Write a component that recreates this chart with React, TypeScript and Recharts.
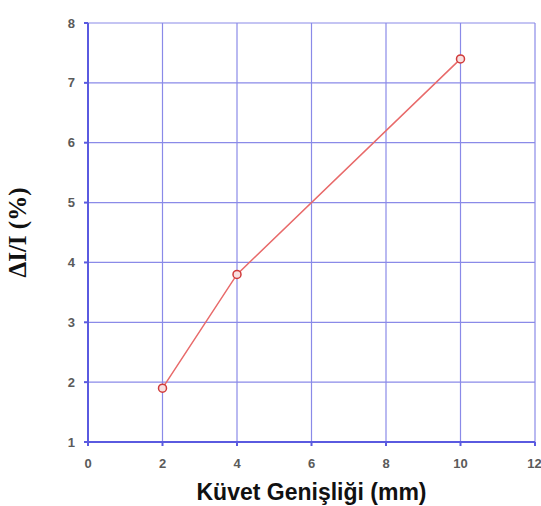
import React from 'react';
import { LineChart, Line, XAxis, YAxis, CartesianGrid } from 'recharts';

const widths = [2, 4, 10];
const ratios = [1.9, 3.8, 7.4];
const xTicks = [0, 2, 4, 6, 8, 10, 12];
const yTicks = [1, 2, 3, 4, 5, 6, 7, 8];

const data = widths.map((w, i) => ({ w, r: ratios[i] }));

const gridBlue = '#8a8ae8';
const axisBlue = '#5a5ae0';
const tickStyle = { fontSize: 13, fill: '#5a5a5a', fontFamily: 'Arial, sans-serif', fontWeight: 'bold' as const };

export default function App() {
  return (
    <div style={{ position: 'absolute', left: 0, top: 0, background: '#fff' }}>
      <LineChart width={541} height={506} data={data} margin={{ top: 23, right: 6, left: 0, bottom: 0 }}>
        <CartesianGrid stroke={gridBlue} strokeWidth={1.2} />
        <XAxis
          dataKey="w"
          type="number"
          domain={[0, 12]}
          ticks={xTicks}
          height={64}
          stroke={axisBlue}
          strokeWidth={2}
          tickSize={4}
          tick={tickStyle}
          tickLine={{ stroke: axisBlue }}
          tickMargin={13}
          label={{ value: 'Küvet Genişliği (mm)', position: 'insideBottom', offset: 6, style: { fontSize: 23, fontWeight: 'bold', fill: '#111', fontFamily: 'Arial, sans-serif' } }}
        />
        <XAxis xAxisId="top" orientation="top" type="number" domain={[0, 12]} ticks={xTicks} stroke={axisBlue} strokeWidth={2} tick={false} height={0} />
        <YAxis
          type="number"
          domain={[1, 8]}
          ticks={yTicks}
          width={88}
          stroke={axisBlue}
          strokeWidth={2}
          tickSize={4}
          tick={tickStyle}
          tickLine={{ stroke: axisBlue }}
          tickMargin={9}
          label={{ value: 'ΔI/I (%)', angle: -90, position: 'insideLeft', offset: 17, style: { textAnchor: 'middle', fontSize: 25, fontWeight: 'bold', fill: '#111', fontFamily: '"Liberation Serif", "Times New Roman", serif' } }}
        />
        <YAxis yAxisId="right" orientation="right" type="number" domain={[1, 8]} ticks={yTicks} stroke={axisBlue} strokeWidth={2} tick={false} width={0} />
        <Line
          type="linear"
          dataKey="r"
          stroke="#e86a6a"
          strokeWidth={1.5}
          dot={{ r: 4, stroke: '#d03a3a', strokeWidth: 1.5, fill: '#f8e0e0' }}
          isAnimationActive={false}
        />
      </LineChart>
    </div>
  );
}
